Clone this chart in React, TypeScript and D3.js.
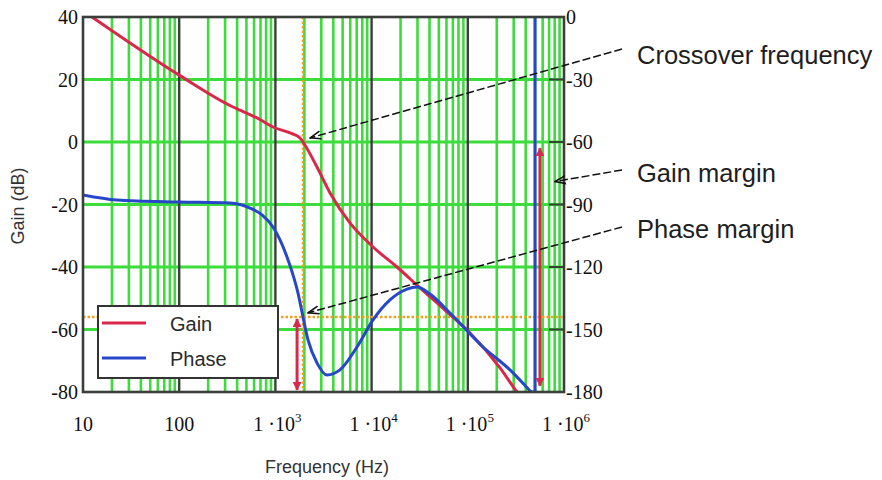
import React from 'react';
import * as d3 from 'd3';

// gain curve
const gainFreq = [12.4, 100, 363, 428, 644, 944, 1419, 1802, 1936, 2705, 3698, 5956, 10350, 18370, 31840, 57940, 105400, 216300, 324300, 393400];
const gainDb = [40, 21.4, 11.2, 10.2, 7.7, 4.8, 2.9, 1.3, 0, -8, -16.3, -25.9, -33.6, -40, -46.7, -53.8, -61.1, -72.3, -80, -83.2];

// phase curve
const phaseFreq = [10, 22.5, 100, 337, 545, 726, 944, 1117, 1320, 1524, 1718, 1936, 2183, 2705, 3435, 4693, 7047, 10350, 15520, 23330, 29650, 40450, 65300, 143900, 274600, 454000];
const phaseDeg = [-85.4, -87.8, -88.8, -89.3, -91.7, -95, -100.8, -107, -115.2, -123.8, -132.5, -144, -155, -166, -171.8, -169.4, -158.4, -145.4, -135.8, -130.6, -129.6, -133, -142.1, -158.4, -169.4, -180];
// phase wraps around at the end
const wrapFreq = [454000, 500000, 500000];
const wrapDeg = [-180, -180, 5];

const crossoverFreq = 1936;
const phaseAtCrossover = -144;
const gainMarginFreq = 562000;
const gainMarginDb = [-2, -78];
const phaseMarginFreq = 1680;
const phaseMarginDeg = [-145, -179];

const gainTicks = [40, 20, 0, -20, -40, -60, -80];
const phaseTicks = [0, -30, -60, -90, -120, -150, -180];
const freqTicks = [10, 100, 1e3, 1e4, 1e5, 1e6];

const RED = '#d9284a';
const BLUE = '#2846c8';
const GREEN = '#3ddc3d';
const DARK = '#3a3f3a';
const ORANGE = '#f0a020';

export default function App() {
  const left = 83, right = 564, top = 17, bottom = 392;
  const x = d3.scaleLog().domain([10, 1e6]).range([left, right]);
  const yG = d3.scaleLinear().domain([-80, 40]).range([bottom, top]);
  const yP = d3.scaleLinear().domain([-180, 0]).range([bottom, top]);

  const minor: number[] = [];
  for (let d = 10; d < 1e6; d *= 10) for (let k = 2; k <= 9; k++) minor.push(k * d);
  const decades = freqTicks.slice(1, -1);

  const gainLine = d3.line<number>().x((_, i) => x(gainFreq[i])).y(d => yG(d)).curve(d3.curveMonotoneX);
  const phaseLine = d3.line<number>().x((_, i) => x(phaseFreq[i])).y(d => yP(d)).curve(d3.curveMonotoneX);
  const wrapLine = d3.line<number>().x((_, i) => x(wrapFreq[i])).y(d => yP(d));

  const serif = 'Liberation Serif, serif';
  const sans = 'Liberation Sans, Arial, sans-serif';

  const notes = [
    { text: 'Crossover frequency', tx: 637, ty: 64, from: [622, 49], to: [x(2290), yG(1.3)] },
    { text: 'Gain margin', tx: 637, ty: 182, from: [622, 170], to: [x(805000), yP(-79)] },
    { text: 'Phase margin', tx: 637, ty: 238, from: [622, 227], to: [x(2183), yP(-142)] },
  ];

  return (
    <svg width={882} height={480} style={{ position: 'absolute', left: 0, top: 0, background: '#fff' }}>
      <defs>
        <clipPath id="plot">
          <rect x={left} y={top} width={right - left} height={bottom - top} />
        </clipPath>
        <marker id="vhead" viewBox="0 0 12 10" refX={11} refY={5} markerWidth={12} markerHeight={10} markerUnits="userSpaceOnUse" orient="auto">
          <path d="M0,1 L11,5 L0,9" fill="none" stroke="#111" strokeWidth={1.6} />
        </marker>
        <marker id="redhead" viewBox="0 0 10 10" refX={9} refY={5} markerWidth={9} markerHeight={9} markerUnits="userSpaceOnUse" orient="auto-start-reverse">
          <path d="M0,0 L10,5 L0,10 Z" fill={RED} />
        </marker>
      </defs>

      {/* grid */}
      {minor.map(f => (
        <line key={'m' + f} x1={x(f)} x2={x(f)} y1={top} y2={bottom} stroke={GREEN} strokeWidth={2.6} />
      ))}
      {gainTicks.slice(1, -1).map(g => (
        <line key={'h' + g} x1={left} x2={right} y1={yG(g)} y2={yG(g)} stroke={GREEN} strokeWidth={2.8} />
      ))}
      {decades.map(f => (
        <line key={'d' + f} x1={x(f)} x2={x(f)} y1={top} y2={bottom} stroke={DARK} strokeWidth={2.4} />
      ))}
      {phaseTicks.slice(1, -1).map(p => (
        <line key={'pt' + p} x1={right - 15} x2={right} y1={yP(p)} y2={yP(p)} stroke={DARK} strokeWidth={2} />
      ))}

      {/* orange dotted guides */}
      <line x1={x(crossoverFreq)} x2={x(crossoverFreq)} y1={top} y2={bottom} stroke={ORANGE} strokeWidth={2.4} strokeDasharray="2.5 2" />
      <line x1={left} x2={right} y1={yP(phaseAtCrossover)} y2={yP(phaseAtCrossover)} stroke={ORANGE} strokeWidth={2.4} strokeDasharray="2.5 2" />

      <g clipPath="url(#plot)">
        <path d={gainLine(gainDb) || ''} fill="none" stroke={RED} strokeWidth={3} />
        <path d={phaseLine(phaseDeg) || ''} fill="none" stroke={BLUE} strokeWidth={3} />
        <path d={wrapLine(wrapDeg) || ''} fill="none" stroke={BLUE} strokeWidth={3} />
      </g>

      {/* margin arrows */}
      <line x1={x(gainMarginFreq)} x2={x(gainMarginFreq)} y1={yG(gainMarginDb[0])} y2={yG(gainMarginDb[1])}
        stroke={RED} strokeWidth={3} markerStart="url(#redhead)" markerEnd="url(#redhead)" />
      <line x1={x(phaseMarginFreq)} x2={x(phaseMarginFreq)} y1={yP(phaseMarginDeg[0])} y2={yP(phaseMarginDeg[1])}
        stroke={RED} strokeWidth={3} markerStart="url(#redhead)" markerEnd="url(#redhead)" />

      {/* frame */}
      <rect x={left} y={top} width={right - left} height={bottom - top} fill="none" stroke={DARK} strokeWidth={2.6} />

      {/* legend */}
      <rect x={98} y={306} width={180} height={72} fill="#fff" stroke="#333" strokeWidth={2} />
      <line x1={102} x2={146} y1={323} y2={323} stroke={RED} strokeWidth={3} />
      <line x1={102} x2={146} y1={358} y2={358} stroke={BLUE} strokeWidth={3} />
      <text x={170} y={331} fontFamily={sans} fontSize={20} fill="#2a2a2a">Gain</text>
      <text x={170} y={366} fontFamily={sans} fontSize={20} fill="#2a2a2a">Phase</text>

      {/* annotations */}
      {notes.map(n => (
        <g key={n.text}>
          <line x1={n.from[0]} y1={n.from[1]} x2={n.to[0]} y2={n.to[1]} stroke="#111" strokeWidth={1.5}
            strokeDasharray="8 3" markerEnd="url(#vhead)" />
          <text x={n.tx} y={n.ty} fontFamily={sans} fontSize={25.5} fill="#1e1e1e">{n.text}</text>
        </g>
      ))}

      {/* left axis */}
      {gainTicks.map(g => (
        <text key={'gl' + g} x={78} y={yG(g)} dy="0.35em" textAnchor="end" fontFamily={serif} fontSize={20} fill="#111">{g}</text>
      ))}
      {/* right axis */}
      {phaseTicks.map(p => (
        <text key={'pl' + p} x={566} y={yP(p)} dy="0.35em" fontFamily={serif} fontSize={20} fill="#111">{p}</text>
      ))}
      {/* bottom axis */}
      {freqTicks.map(f => {
        const e = Math.round(Math.log10(f));
        return (
          <text key={'fl' + f} x={x(f) + (e > 2 ? 2 : 0)} y={431} textAnchor="middle" fontFamily={serif} fontSize={20} fill="#111">
            {e <= 2 ? String(f) : (
              <>
                <tspan>{'1 \u00b710'}</tspan>
                <tspan dy={-9} fontSize={13}>{e}</tspan>
              </>
            )}
          </text>
        );
      })}

      <text x={327} y={473} textAnchor="middle" fontFamily={sans} fontSize={18} fill="#333">Frequency (Hz)</text>
      <text transform="translate(24,206) rotate(-90)" textAnchor="middle" fontFamily={sans} fontSize={18} fill="#333">Gain (dB)</text>
    </svg>
  );
}
